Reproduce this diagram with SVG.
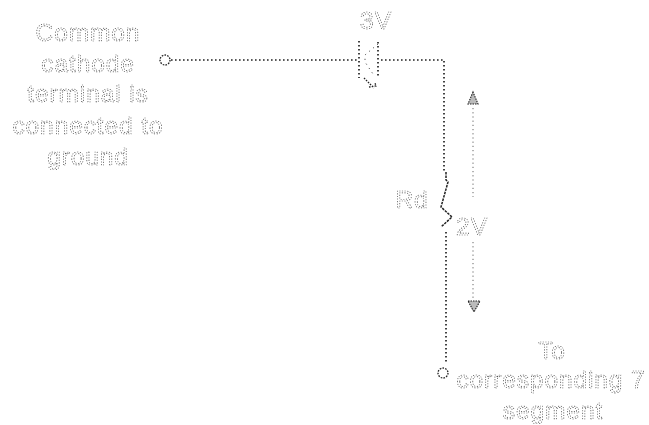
<svg xmlns="http://www.w3.org/2000/svg" width="649" height="425" viewBox="0 0 649 425">
<defs><filter id="g" x="0" y="0" width="1" height="1"><feOffset dx="0" dy="0"/></filter></defs>
<style>
text{font-family:"Liberation Sans",Arial,sans-serif;font-size:24.5px;letter-spacing:.9px;fill:none;stroke:#444;stroke-width:.7;stroke-dasharray:1.1 1.5;text-anchor:middle}
.l{filter:url(#g)}
.w{fill:none;stroke:#222;stroke-width:1.7;stroke-dasharray:1.6 2.4}
.t{fill:none;stroke:#222;stroke-width:1.3;stroke-dasharray:1.6 1.2}
.r{fill:none;stroke:#222;stroke-width:1.5;stroke-dasharray:2.5 1}
.f{fill:none;stroke:#555;stroke-width:1;stroke-dasharray:1.2 4}
.v{fill:none;stroke:#555;stroke-width:.9;stroke-dasharray:1.2 3}
.h{fill:#bbb;stroke:#222;stroke-width:1.1;stroke-dasharray:1.5 1}
</style>
<g id="connectors">
<path class="w" d="M171 60H357"/>
<path class="w" d="M381 60H444V172"/>
<path class="w" d="M446 232V363"/>
<path class="v" d="M473 108V197"/>
<path class="v" d="M473 242V300"/>
</g>
<g id="label-common" class="l"><text x="88" y="41">Common</text><text x="88" y="72">cathode</text><text x="88" y="102">terminal is</text><text x="88" y="134">connected to</text><text x="88" y="165">ground</text></g>
<g id="terminal-a"><circle class="t" cx="165" cy="60" r="5"/></g>
<g id="diode">
<path class="w" d="M359 41V78"/><path class="w" d="M378 42V77"/>
<path class="f" d="M378 44L365 55V62L373 74"/>
<path class="t" d="M364 78L374 88M369 87L376 86L375 83"/>
<g class="l"><text x="376" y="29">3V</text></g>
</g>
<g id="resistor">
<path class="r" d="M446 172V180L448 182L441 207L452 217L441 227"/>
<g class="l"><text x="412" y="208">Rd</text></g>
</g>
<g id="voltage-arrows">
<path class="h" d="M473 92L468 104H478Z"/>
<path class="h" d="M468 301H480L474 312Z"/>
<g class="l"><text x="472" y="235">2V</text></g>
</g>
<g id="terminal-b"><circle class="t" cx="443" cy="373" r="5"/></g>
<g id="label-segment" class="l"><text x="552" y="359">To</text><text x="551" y="388">corresponding 7</text><text x="553" y="419">segment</text></g>
</svg>
